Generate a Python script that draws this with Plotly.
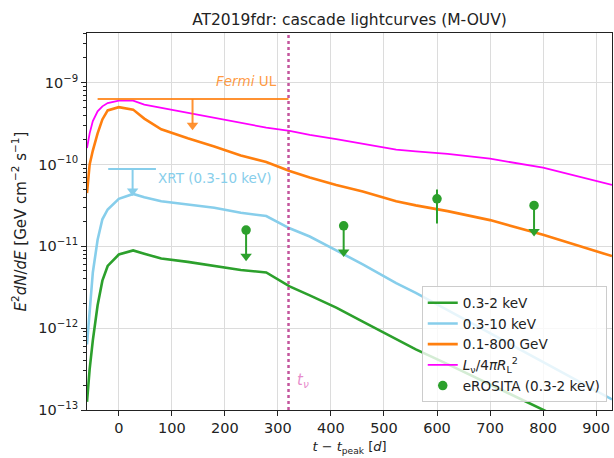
import numpy as np
import plotly.graph_objects as go

# ---------------- data ----------------
t_days = [-60, -55, -49, -40, -31, -21, 0, 27, 48, 80, 130, 180, 230, 278, 322,
          360, 410, 460, 523, 560, 620, 700, 800, 930]
log_soft_xray = [-12.9, -12.5, -12.15, -11.72, -11.42, -11.24, -11.10, -11.05, -11.09,
                 -11.15, -11.19, -11.24, -11.29, -11.32, -11.49, -11.60, -11.75, -11.92,
                 -12.14, -12.26, -12.44, -12.69, -13.0, -13.4]
log_xray = [-12.2, -11.75, -11.32, -10.92, -10.67, -10.55, -10.42, -10.36, -10.40,
            -10.45, -10.49, -10.53, -10.59, -10.63, -10.78, -10.88, -11.05, -11.22,
            -11.45, -11.57, -11.78, -12.06, -12.41, -12.87]
log_gamma = [-10.35, -10.0, -9.83, -9.62, -9.45, -9.34, -9.30, -9.33, -9.44, -9.57,
             -9.68, -9.78, -9.89, -9.97, -10.08, -10.16, -10.25, -10.33, -10.45, -10.50,
             -10.57, -10.68, -10.86, -11.12]
log_nu = [-9.80, -9.62, -9.47, -9.35, -9.29, -9.25, -9.22, -9.22, -9.27, -9.31, -9.37,
          -9.43, -9.49, -9.55, -9.59, -9.64, -9.69, -9.75, -9.82, -9.84, -9.87, -9.93,
          -10.04, -10.25]

series_names = ["0.3-2 keV", "0.3-10 keV", "0.1-800 GeV",
                "<i>L</i><sub>ν</sub>/4<i>π</i><i>R</i><sub>L</sub><sup>2</sup>"]

erosita_t = [240, 424, 600, 783]
erosita_flux = [1.58e-11, 1.78e-11, 3.8e-11, 3.16e-11]
erosita_is_ul = [True, True, False, True]
erosita_err_up = [0, 0, 1.13e-11, 0]
erosita_err_down = [0, 0, 1.9e-11, 0]

fermi_ul_t = [-40, 320]
fermi_ul_flux = 6.3e-10
fermi_arrow_t = 139

xrt_ul_t = [-20, 70]
xrt_ul_flux = 8.8e-11
xrt_arrow_t = 26

t_nu = 320

y_ticks = [1e-13, 1e-12, 1e-11, 1e-10, 1e-9]
y_ticktext = ["10<sup>−13</sup>", "10<sup>−12</sup>", "10<sup>−11</sup>",
              "10<sup>−10</sup>", "10<sup>−9</sup>"]
x_ticks = [0, 100, 200, 300, 400, 500, 600, 700, 800, 900]

# ---------------- styles ----------------
GREEN = "#2ca02c"
BLUE = "#87ceeb"
ORANGE = "#ff7f0e"
MAGENTA = "#ff00ff"
PINK = "#c4559d"
FONT = "DejaVu Sans"
TXT = "#222222"

t = np.array(t_days, dtype=float)
fig = go.Figure()

for logv, name, col, w in [(log_soft_xray, series_names[0], GREEN, 2.6),
                           (log_xray, series_names[1], BLUE, 2.6),
                           (log_gamma, series_names[2], ORANGE, 2.6),
                           (log_nu, series_names[3], MAGENTA, 1.8)]:
    fig.add_trace(go.Scatter(x=t, y=10 ** np.array(logv), mode="lines", name=name,
                             line=dict(color=col, width=w)))


def ul_arrow(x, y0, drop, color, width, head):
    """Vertical arrow pointing down from y0 (data) by 'drop' decades."""
    y_end = y0 * 10 ** (-drop)
    y_head = y0 * 10 ** (-(drop - 0.04))
    fig.add_trace(go.Scatter(x=[x, x], y=[y0, y_end * 10 ** 0.06], mode="lines",
                             line=dict(color=color, width=width), showlegend=False,
                             hoverinfo="skip"))
    fig.add_trace(go.Scatter(x=[x], y=[y_head], mode="markers",
                             marker=dict(symbol="triangle-down", size=head, color=color,
                                         line=dict(width=0)),
                             showlegend=False, hoverinfo="skip"))


# Fermi UL
FERMI_COL = "rgba(255,127,14,0.85)"
fig.add_trace(go.Scatter(x=fermi_ul_t, y=[fermi_ul_flux] * 2, mode="lines",
                         line=dict(color=FERMI_COL, width=2.2), showlegend=False,
                         hoverinfo="skip"))
ul_arrow(fermi_arrow_t, fermi_ul_flux, 0.36, FERMI_COL, 2.0, 10)

# XRT UL
fig.add_trace(go.Scatter(x=xrt_ul_t, y=[xrt_ul_flux] * 2, mode="lines",
                         line=dict(color=BLUE, width=2.2), showlegend=False,
                         hoverinfo="skip"))
ul_arrow(xrt_arrow_t, xrt_ul_flux, 0.31, BLUE, 2.0, 10)

# eROSITA upper limit arrows
for ti, fi, ul in zip(erosita_t, erosita_flux, erosita_is_ul):
    if ul:
        ul_arrow(ti, fi, 0.36, GREEN, 2.0, 10)

# eROSITA points (legend entry)
fig.add_trace(go.Scatter(x=erosita_t, y=erosita_flux, mode="markers",
                         name="eROSITA (0.3-2 keV)",
                         marker=dict(color=GREEN, size=9.5, symbol="circle"),
                         error_y=dict(type="data", symmetric=False, array=erosita_err_up,
                                      arrayminus=erosita_err_down, color=GREEN,
                                      thickness=2, width=0)))

# t_nu line
fig.add_shape(type="line", xref="x", yref="paper", x0=t_nu, x1=t_nu, y0=0, y1=1,
              line=dict(color=PINK, width=2.5, dash="dot"), layer="above")

# annotations
fig.add_annotation(x=180, y=np.log10(1.04e-9), xref="x", yref="y",
                   text="<i>Fermi</i> UL", showarrow=False, xanchor="left",
                   yanchor="middle", font=dict(family=FONT, size=13.5,
                                               color="rgba(255,127,14,0.8)"))
fig.add_annotation(x=71, y=np.log10(6.8e-11), xref="x", yref="y",
                   text="XRT (0.3-10 keV)", showarrow=False, xanchor="left",
                   yanchor="middle", font=dict(family=FONT, size=13.5, color=BLUE))
fig.add_annotation(x=t_nu + 12, y=np.log10(2.3e-13), xref="x", yref="y",
                   text="<i>t</i><sub><i>ν</i></sub>", showarrow=False, xanchor="left",
                   yanchor="middle", font=dict(family=FONT, size=15,
                                               color="rgba(227,119,194,0.85)"))

minor_vals = [k * 10.0 ** e for e in range(-13, -8) for k in range(2, 10)]

fig.update_layout(
    width=614, height=458,
    margin=dict(l=87, r=2, t=33, b=48),
    paper_bgcolor="white", plot_bgcolor="white",
    font=dict(family=FONT, color=TXT, size=14),
    title=dict(text="AT2019fdr: cascade lightcurves (M-OUV)", x=(87 + 612) / 2 / 614,
               xanchor="center", y=1 - 20 / 458, yanchor="middle",
               font=dict(family=FONT, size=15.5, color=TXT)),
    showlegend=True,
    legend=dict(x=0.99, xanchor="right", y=0.02, yanchor="bottom",
                bgcolor="rgba(255,255,255,0.8)", bordercolor="#cccccc", borderwidth=1,
                font=dict(family=FONT, size=13.6, color=TXT), tracegroupgap=0,
                itemwidth=30),
)

fig.update_xaxes(range=[-60, 930], tickvals=x_ticks, ticks="outside", ticklen=5,
                 tickcolor=TXT, showline=True, linecolor=TXT, linewidth=1, mirror=True,
                 showgrid=True, gridcolor="#dcdcdc", gridwidth=1, zeroline=False,
                 tickfont=dict(family=FONT, size=14.5, color=TXT),
                 title=dict(text="<i>t</i> − <i>t</i><sub>peak</sub> [<i>d</i>]",
                            font=dict(family=FONT, size=13, color=TXT), standoff=6))
fig.update_yaxes(type="log", range=[-13, -8.394], tickvals=y_ticks, ticktext=y_ticktext,
                 ticks="outside", ticklen=5, tickcolor=TXT, showline=True,
                 linecolor=TXT, linewidth=1, mirror=True, showgrid=True,
                 gridcolor="#dcdcdc", gridwidth=1, zeroline=False,
                 tickfont=dict(family=FONT, size=14.5, color=TXT),
                 minor=dict(tickmode="array", tickvals=minor_vals, ticks="outside",
                            ticklen=3, tickcolor=TXT, showgrid=False),
                 title=dict(text="<i>E</i><sup>2</sup><i>dN</i>/<i>dE</i> [GeV cm<sup>−2</sup> s<sup>−1</sup>]",
                            font=dict(family=FONT, size=15, color=TXT), standoff=8))

fig.write_html("out.html")
